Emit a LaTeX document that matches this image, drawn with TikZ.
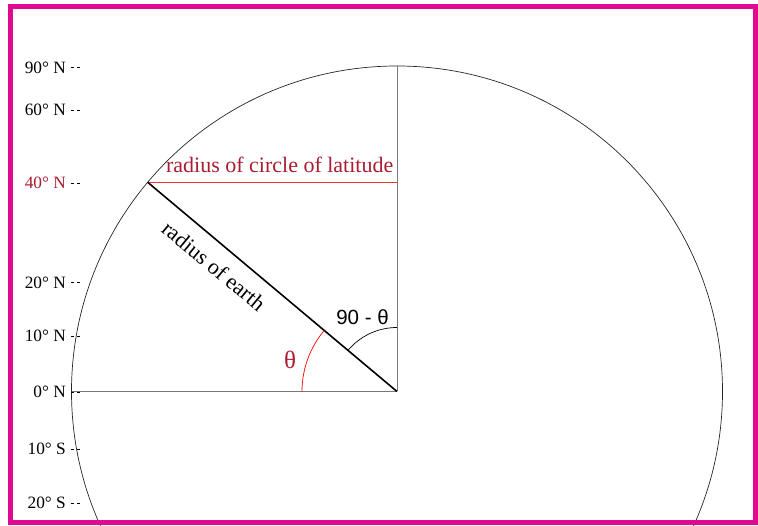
\documentclass[tikz,border=0pt]{standalone}
\usepackage{fontspec}
\setmainfont{Liberation Serif}
\newfontfamily\arialfont{Liberation Sans}
\usetikzlibrary{calc}
\definecolor{framemag}{RGB}{224,10,146}
\definecolor{darkred}{RGB}{170,28,48}
\definecolor{brightred}{RGB}{240,50,50}
\definecolor{axisgray}{RGB}{120,120,120}
\begin{document}
\begin{tikzpicture}[x=1pt,y=1pt,
  latlabel/.style={anchor=east,inner sep=0pt,font=\fontsize{17.3}{20}\selectfont},
  tickmark/.style={line width=0.8pt,dash pattern=on 3.3pt off 2.7pt},
  axisline/.style={axisgray,line width=1pt},
  earthline/.style={black,line width=1.6pt},
  bigtext/.style={inner sep=0pt,font=\fontsize{22}{25}\selectfont}]
\useasboundingbox (0,0) rectangle (758,525);
\coordinate (O) at (397,133.5);
\coordinate (P) at ($(O)+(140:325.5)$);
\coordinate (N) at ($(O)+(90:325.5)$);
\coordinate (W) at ($(O)+(180:325.5)$);
\coordinate (Q) at (O |- P);
\begin{scope}
\clip (0,0) rectangle (758,525);
\draw[line width=0.7pt,black!85] (O) circle[radius=325.5];
\end{scope}
% axes
\draw[axisline] (W) -- (O);
\draw[axisline] (N) -- (O);
% latitude circle radius
\draw[brightred,line width=1.4pt] (P) -- (Q);
% earth radius
\draw[earthline] (P) -- (O);
% arcs
\draw[red,line width=0.7pt] ($(O)+(180:95)$) arc[start angle=180,end angle=140,radius=95];
\draw[black,line width=0.7pt] ($(O)+(90:64)$) arc[start angle=90,end angle=140,radius=64];
% texts
\node[bigtext,text=darkred,anchor=base] (lat) at (279.7,352) {radius of circle of latitude};
\node[bigtext,rotate=-39.8] (earth) at (214,259) {radius of earth};
\node[inner sep=0pt,font=\arialfont\fontsize{20.5}{24}\selectfont] (cang) at (362.5,208) {90 - θ};
\node[inner sep=0pt,text=darkred,font=\fontsize{25}{28}\selectfont] (ang) at (290,165) {θ};
% latitude labels and ticks
\foreach \nm/\lab/\yy/\col in {l90/90° N/457.3/black, l60/60° N/415/black, l40/40° N/341.7/darkred, l20/20° N/242.3/black, l10/10° N/189/black, l0/0° N/133/black, ls10/10° S/76/black, ls20/20° S/21.7/black}{
  \node[latlabel,text=\col] (\nm) at (66,\yy) {\lab};
  \coordinate (\nm a) at (71,\yy);
  \coordinate (\nm b) at (80,\yy);
  \draw[tickmark] (\nm a) -- (\nm b);
}
% frame
\draw[framemag,line width=5pt] (10.5,2.5) rectangle (755.5,518.5);
\end{tikzpicture}
\end{document}
